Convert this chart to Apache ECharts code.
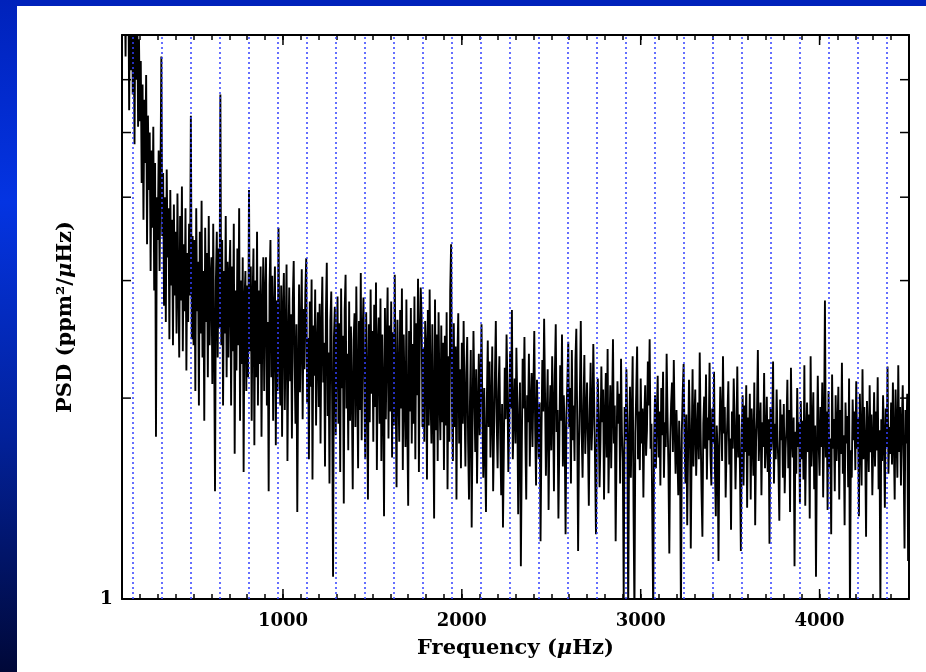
<!DOCTYPE html>
<html>
<head>
<meta charset="UTF-8">
<script src="https://cdn.jsdelivr.net/npm/echarts@6/dist/echarts.min.js"></script>
<style>
html, body { margin: 0; padding: 0; background: #fff; }
#main { width: 926px; height: 672px; }
</style>
</head>
<body>
<div id="main"></div>
<script>
var freqStart = 100;
var freqStep = 5;
var psd = [
  9.8, 7.3, 11.2, 8.6, 6.5, 10.4, 7.9, 9.3, 5.4, 8.9, 6.2, 9.6, 5.7, 7.4, 4.8, 8.2, 6.0, 7.8, 5.1, 6.9,                     // 100
  5.2, 6.4, 4.2, 5.9, 3.7, 5.6, 4.5, 6.1, 3.4, 5.3, 4.1, 5.0, 3.1, 4.7, 3.6, 5.1, 2.9, 4.5, 1.75, 4.0,                      // 200
  3.45, 4.7, 3.1, 4.25, 6.5, 3.5, 4.35, 2.75, 4.0, 2.6, 4.4, 3.25, 3.85, 2.45, 4.1, 2.95, 3.7, 2.4, 3.9, 2.85,              // 300
  3.55, 2.5, 4.05, 2.95, 2.3, 3.75, 2.8, 4.15, 2.35, 3.4, 2.7, 3.85, 2.2, 3.3, 2.6, 3.65, 2.85, 5.3, 2.45, 3.5,             // 400
  2.4, 3.45, 2.05, 3.85, 2.7, 3.2, 1.95, 3.55, 2.5, 3.95, 2.3, 3.1, 1.85, 3.6, 2.6, 3.3, 2.15, 3.75, 2.4, 3.0,              // 500
  3.25, 2.1, 3.65, 2.45, 1.45, 3.0, 3.55, 2.3, 3.35, 2.55, 5.7, 2.4, 3.45, 1.95, 3.1, 2.5, 3.75, 2.15, 3.2, 2.3,            // 600
  3.05, 3.45, 1.95, 3.15, 2.35, 3.65, 1.65, 2.9, 2.2, 3.35, 2.4, 3.85, 1.85, 3.0, 2.25, 3.25, 1.55, 2.8, 3.1, 2.05,         // 700
  2.95, 2.15, 4.1, 2.35, 3.15, 1.85, 2.8, 3.35, 1.7, 3.0, 2.15, 3.55, 1.95, 2.9, 2.25, 3.15, 1.75, 2.7, 3.25, 2.05,         // 800
  2.85, 3.25, 1.95, 2.6, 1.45, 2.95, 3.45, 2.15, 3.05, 1.85, 2.7, 3.15, 1.7, 2.8, 2.05, 3.6, 2.3, 1.95, 2.95, 1.75,         // 900
  2.71, 3.08, 1.92, 2.44, 3.17, 1.61, 2.38, 2.93, 2.12, 2.67, 1.74, 2.81, 3.21, 2.26, 1.83, 2.58, 1.35, 2.19, 2.96, 2.04,   // 1000
  2.49, 3.12, 1.86, 2.72, 2.21, 2.88, 3.24, 1.97, 2.46, 1.62, 2.79, 2.08, 3.01, 1.51, 2.57, 2.16, 2.91, 1.82, 2.37, 2.69,   // 1100
  1.94, 2.77, 1.71, 2.53, 3.04, 2.11, 2.42, 1.58, 2.68, 3.19, 1.88, 2.34, 1.49, 2.61, 2.89, 1.96, 1.08, 2.47, 2.74, 1.76,   // 1200
  2.36, 2.84, 1.83, 2.59, 1.55, 2.92, 2.07, 2.48, 1.39, 2.71, 3.06, 1.93, 2.33, 1.67, 2.79, 1.85, 2.56, 2.02, 1.46, 2.44,   // 1300
  2.68, 1.81, 2.94, 2.13, 1.57, 2.61, 1.92, 3.08, 1.73, 2.47, 2.83, 2.01, 1.62, 2.69, 2.14, 1.41, 2.58, 1.84, 2.91, 2.03,   // 1400
  2.52, 1.72, 2.76, 1.94, 2.98, 1.56, 2.39, 2.64, 1.83, 2.82, 1.61, 2.49, 2.04, 1.33, 2.73, 1.86, 2.41, 2.93, 1.74, 2.57,   // 1500
  1.91, 2.79, 1.63, 2.51, 1.82, 3.06, 2.03, 1.47, 2.62, 2.12, 1.72, 2.71, 1.93, 2.92, 1.56, 2.49, 2.01, 1.69, 2.81, 1.84,   // 1600
  1.38, 2.52, 1.91, 2.73, 1.71, 2.41, 1.83, 2.84, 1.62, 2.59, 2.02, 3.02, 1.55, 2.47, 2.93, 2.66, 1.81, 2.38, 1.72, 2.61,   // 1700
  2.39, 1.51, 2.71, 1.82, 2.91, 2.01, 1.71, 2.58, 1.92, 1.32, 2.81, 1.79, 2.49, 1.61, 2.69, 2.02, 1.73, 2.57, 1.84, 2.42,   // 1800
  1.56, 2.48, 1.82, 2.69, 1.46, 2.31, 1.72, 2.89, 3.4, 1.91, 1.61, 2.59, 1.81, 2.39, 1.41, 2.29, 2.68, 1.71, 2.21, 1.57,    // 1900
  2.42, 1.83, 2.61, 1.97, 1.58, 2.18, 2.47, 1.72, 1.41, 1.94, 2.36, 1.28, 1.87, 2.52, 2.03, 1.66, 2.21, 1.49, 1.91, 2.33,   // 2000
  1.76, 2.12, 2.58, 1.89, 1.52, 2.07, 1.68, 1.35, 1.99, 2.44, 1.81, 2.27, 1.63, 1.92, 2.39, 1.45, 1.78, 2.16, 2.61, 1.84,   // 2100
  1.57, 2.04, 2.31, 1.74, 1.43, 1.96, 1.28, 1.69, 2.22, 1.86, 2.49, 2.08, 1.55, 1.81, 2.35, 1.93, 2.71, 1.62, 1.88, 2.14,   // 2200
  1.71, 2.38, 1.97, 1.34, 1.82, 2.11, 1.12, 1.65, 2.29, 1.93, 2.47, 1.76, 1.41, 2.02, 1.84, 2.33, 1.58, 1.95, 2.18, 1.69,   // 2300
  2.06, 2.52, 1.79, 1.48, 2.13, 1.86, 1.62, 1.97, 1.22, 1.74, 2.28, 1.91, 2.63, 2.04, 1.53, 1.88, 2.21, 1.36, 1.83, 2.09,   // 2400
  1.67, 2.31, 1.94, 1.45, 2.16, 2.58, 1.78, 1.92, 1.32, 1.71, 2.24, 1.85, 2.49, 1.58, 2.02, 1.76, 1.25, 1.89, 2.12, 2.43,   // 2500
  1.81, 2.07, 1.49, 2.36, 1.73, 1.95, 1.61, 2.27, 2.54, 1.86, 1.18, 1.69, 2.03, 2.61, 1.78, 1.52, 1.94, 2.32, 1.65, 1.87,   // 2600
  2.11, 1.74, 1.38, 1.91, 2.26, 1.67, 1.83, 2.41, 1.96, 1.59, 1.25, 1.78, 2.14, 1.89, 1.47, 1.72, 2.23, 1.84, 2.06, 1.41,   // 2700
  1.86, 2.18, 1.63, 2.37, 1.44, 1.79, 2.09, 1.57, 1.92, 2.45, 1.71, 1.95, 1.22, 1.68, 2.12, 1.83, 2.03, 1.49, 2.29, 1.77,   // 2800
  1.61, 1.0, 1.94, 1.73, 2.21, 1.84, 0.95, 1.69, 2.08, 1.52, 1.88, 2.31, 1.35, 0.95, 1.77, 2.04, 2.39, 1.62, 1.91, 1.56,    // 2900
  2.14, 1.71, 1.93, 1.42, 1.86, 2.09, 1.64, 1.79, 2.27, 1.95, 2.45, 1.68, 1.83, 1.31, 0.95, 1.74, 2.02, 1.57, 1.88, 2.16,   // 3000
  1.63, 1.91, 1.48, 2.07, 1.76, 2.19, 1.52, 1.84, 1.69, 2.33, 1.87, 1.58, 1.17, 1.72, 1.96, 2.11, 1.66, 2.28, 1.81, 1.54,   // 3100
  1.92, 1.67, 1.43, 1.85, 1.61, 0.95, 1.78, 2.04, 2.25, 1.73, 1.49, 1.89, 1.29, 1.66, 2.13, 1.82, 1.19, 1.71, 2.21, 1.58,   // 3200
  1.84, 2.06, 1.53, 1.76, 1.97, 1.62, 2.34, 1.79, 1.45, 1.24, 1.83, 2.01, 1.68, 2.17, 1.51, 1.87, 1.73, 2.26, 1.64, 1.48,   // 3300
  1.93, 1.71, 2.19, 1.56, 1.33, 1.82, 1.67, 1.14, 1.75, 2.08, 1.86, 1.61, 2.31, 1.77, 1.94, 1.42, 1.69, 1.88, 2.12, 1.59,   // 3400
  1.74, 1.27, 1.91, 1.68, 2.14, 1.85, 1.46, 1.72, 2.23, 1.63, 1.89, 1.55, 1.18, 1.79, 2.02, 1.48, 1.95, 1.66, 2.09, 1.37,   // 3500
  1.87, 1.64, 2.03, 1.41, 1.93, 1.76, 1.53, 2.11, 1.29, 1.72, 1.88, 2.36, 1.61, 1.79, 1.97, 1.43, 1.84, 1.69, 2.18, 1.57,   // 3600
  1.71, 2.01, 1.55, 1.86, 1.21, 1.94, 1.67, 1.78, 2.27, 1.49, 1.83, 1.62, 2.06, 1.74, 1.58, 1.31, 1.99, 1.73, 1.89, 1.52,   // 3700
  1.96, 1.44, 1.68, 1.81, 2.13, 1.57, 1.92, 1.35, 2.22, 1.75, 1.63, 1.87, 1.12, 1.78, 1.54, 2.07, 1.69, 1.84, 1.39, 1.98,   // 3800
  1.62, 1.85, 1.51, 2.24, 1.38, 1.73, 1.97, 1.66, 1.89, 1.32, 2.31, 1.58, 1.77, 2.04, 1.46, 1.82, 1.08, 1.64, 2.16, 1.71,   // 3900
  1.53, 1.94, 1.69, 2.11, 1.42, 1.78, 2.8, 1.63, 1.91, 1.36, 2.05, 1.57, 1.74, 1.25, 2.17, 1.68, 1.86, 1.45, 2.02, 1.61,    // 4000
  1.79, 2.08, 1.41, 1.92, 1.65, 2.26, 1.54, 1.76, 1.29, 1.97, 1.71, 1.88, 1.47, 2.14, 0.95, 1.67, 1.52, 1.99, 1.73, 1.91,   // 4100
  1.56, 2.12, 1.68, 1.87, 1.33, 2.03, 1.75, 1.48, 2.21, 1.62, 1.94, 1.71, 1.24, 1.98, 1.77, 1.55, 2.09, 1.66, 1.89, 1.43,   // 4200
  1.72, 2.04, 1.58, 1.91, 1.67, 2.15, 1.46, 1.79, 0.98, 1.86, 1.61, 2.02, 1.74, 1.37, 1.93, 1.69, 2.23, 1.54, 1.81, 1.65,   // 4300
  1.97, 1.59, 2.11, 1.73, 1.41, 2.06, 1.78, 1.52, 2.24, 1.66, 1.94, 1.48, 1.83, 2.09, 1.62, 1.19, 1.92, 1.71, 2.03, 1.14,   // 4400
  1.68                                                                                                                     // 4500
];
// dotted comb lines (multiples of ~162 uHz)
var combLines = [162, 324, 486, 648, 810, 972, 1134, 1296, 1458, 1620, 1782, 1944, 2106, 2268,
  2430, 2592, 2754, 2916, 3078, 3240, 3402, 3564, 3726, 3888, 4050, 4212, 4374];
var xMajorTicks = [1000, 2000, 3000, 4000];
var yMinorTicks = [2, 3, 4, 5, 6];
var xMin = 100, xMax = 4500, yMin = 1, yMax = 7;

var seriesData = [];
for (var i = 0; i < psd.length; i++) {
  seriesData.push([freqStart + i * freqStep, psd[i]]);
}

var font = 'DejaVu Serif';
var myChart = echarts.init(document.getElementById('main'));

var titleRich = {
  n: { fontFamily: font, fontWeight: 'bold', fontSize: 21, color: '#000' },
  i: { fontFamily: font, fontWeight: 'bold', fontStyle: 'italic', fontSize: 21, color: '#000' }
};

var option = {
  backgroundColor: '#ffffff',
  animation: false,
  graphic: [
    { type: 'rect', silent: true, z: -10, shape: { x: 0, y: 0, width: 926, height: 6 },
      style: { fill: '#0022bb' } },
    { type: 'rect', silent: true, z: -10, shape: { x: 0, y: 0, width: 17, height: 672 },
      style: { fill: new echarts.graphic.LinearGradient(0, 0, 0, 1, [
        { offset: 0, color: '#0022bb' },
        { offset: 0.3, color: '#0434e2' },
        { offset: 0.65, color: '#02219a' },
        { offset: 1, color: '#000838' }
      ]) } }
  ],
  grid: { left: 122, right: 17, top: 35, bottom: 73 },
  xAxis: [{
    type: 'value', min: xMin, max: xMax, interval: 100,
    name: '{n|Frequency (}{i|μ}{n|Hz)}',
    nameLocation: 'middle', nameGap: 39,
    nameTextStyle: { rich: titleRich },
    axisLine: { onZero: false, lineStyle: { color: '#000', width: 2 } },
    axisTick: { inside: true, length: 5, lineStyle: { color: '#000', width: 1.5 } },
    axisLabel: { margin: 13, fontFamily: font, fontWeight: 'bold', fontSize: 18, color: '#000',
      formatter: function (v) { return v % 1000 === 0 ? String(v) : ''; } },
    splitLine: { show: false }
  }, {
    type: 'value', position: 'top', min: xMin, max: xMax, interval: 100,
    axisLine: { onZero: false, lineStyle: { color: '#000', width: 2 } },
    axisTick: { inside: true, length: 5, lineStyle: { color: '#000', width: 1.5 } },
    axisLabel: { show: false },
    splitLine: { show: false }
  }],
  yAxis: [{
    type: 'log', min: yMin, max: yMax, logBase: 10,
    name: '{n|PSD (ppm²/}{i|μ}{n|Hz)}',
    nameLocation: 'middle', nameGap: 46, nameRotate: 90,
    nameTextStyle: { rich: titleRich },
    axisLine: { onZero: false, lineStyle: { color: '#000', width: 2 } },
    axisTick: { show: false },
    axisLabel: { margin: 9, fontFamily: font, fontWeight: 'bold', fontSize: 19, color: '#000',
      padding: [0, 0, 14, 0],
      formatter: function (v) { return Math.abs(v - 1) < 1e-6 ? '1' : ''; } },
    splitLine: { show: false }
  }, {
    type: 'log', min: yMin, max: yMax, logBase: 10, position: 'right',
    axisLine: { onZero: false, lineStyle: { color: '#000', width: 2 } },
    axisTick: { show: false },
    axisLabel: { show: false },
    splitLine: { show: false }
  }],
  series: [{
    type: 'line',
    data: seriesData,
    symbol: 'none',
    lineStyle: { color: '#000', width: 1.9 },
    clip: true,
    z: 2
  }, {
    // dotted comb
    type: 'line',
    data: [],
    z: 3,
    markLine: {
      silent: true,
      symbol: 'none',
      label: { show: false },
      lineStyle: { color: '#3340ff', type: [2, 3], width: 1.5 },
      data: combLines.map(function (f) { return { xAxis: f }; })
    }
  }, {
    // minor y ticks on both sides
    type: 'custom',
    z: 4,
    data: yMinorTicks.map(function (v) { return [xMin, v]; }),
    renderItem: function (params, api) {
      var l = api.coord([xMin, api.value(1)]);
      var r = api.coord([xMax, api.value(1)]);
      var st = { stroke: '#000', lineWidth: 1.5 };
      return { type: 'group', children: [
        { type: 'line', shape: { x1: l[0], y1: l[1], x2: l[0] + 9, y2: l[1] }, style: st },
        { type: 'line', shape: { x1: r[0] - 9, y1: r[1], x2: r[0], y2: r[1] }, style: st }
      ] };
    }
  }, {
    // long x ticks at the thousands
    type: 'custom',
    z: 4,
    data: xMajorTicks.map(function (v) { return [v, yMin]; }),
    renderItem: function (params, api) {
      var b = api.coord([api.value(0), yMin]);
      var t = api.coord([api.value(0), yMax]);
      var st = { stroke: '#000', lineWidth: 1.5 };
      return { type: 'group', children: [
        { type: 'line', shape: { x1: b[0], y1: b[1], x2: b[0], y2: b[1] - 10 }, style: st },
        { type: 'line', shape: { x1: t[0], y1: t[1], x2: t[0], y2: t[1] + 10 }, style: st }
      ] };
    }
  }]
};

myChart.setOption(option);
</script>
</body>
</html>
